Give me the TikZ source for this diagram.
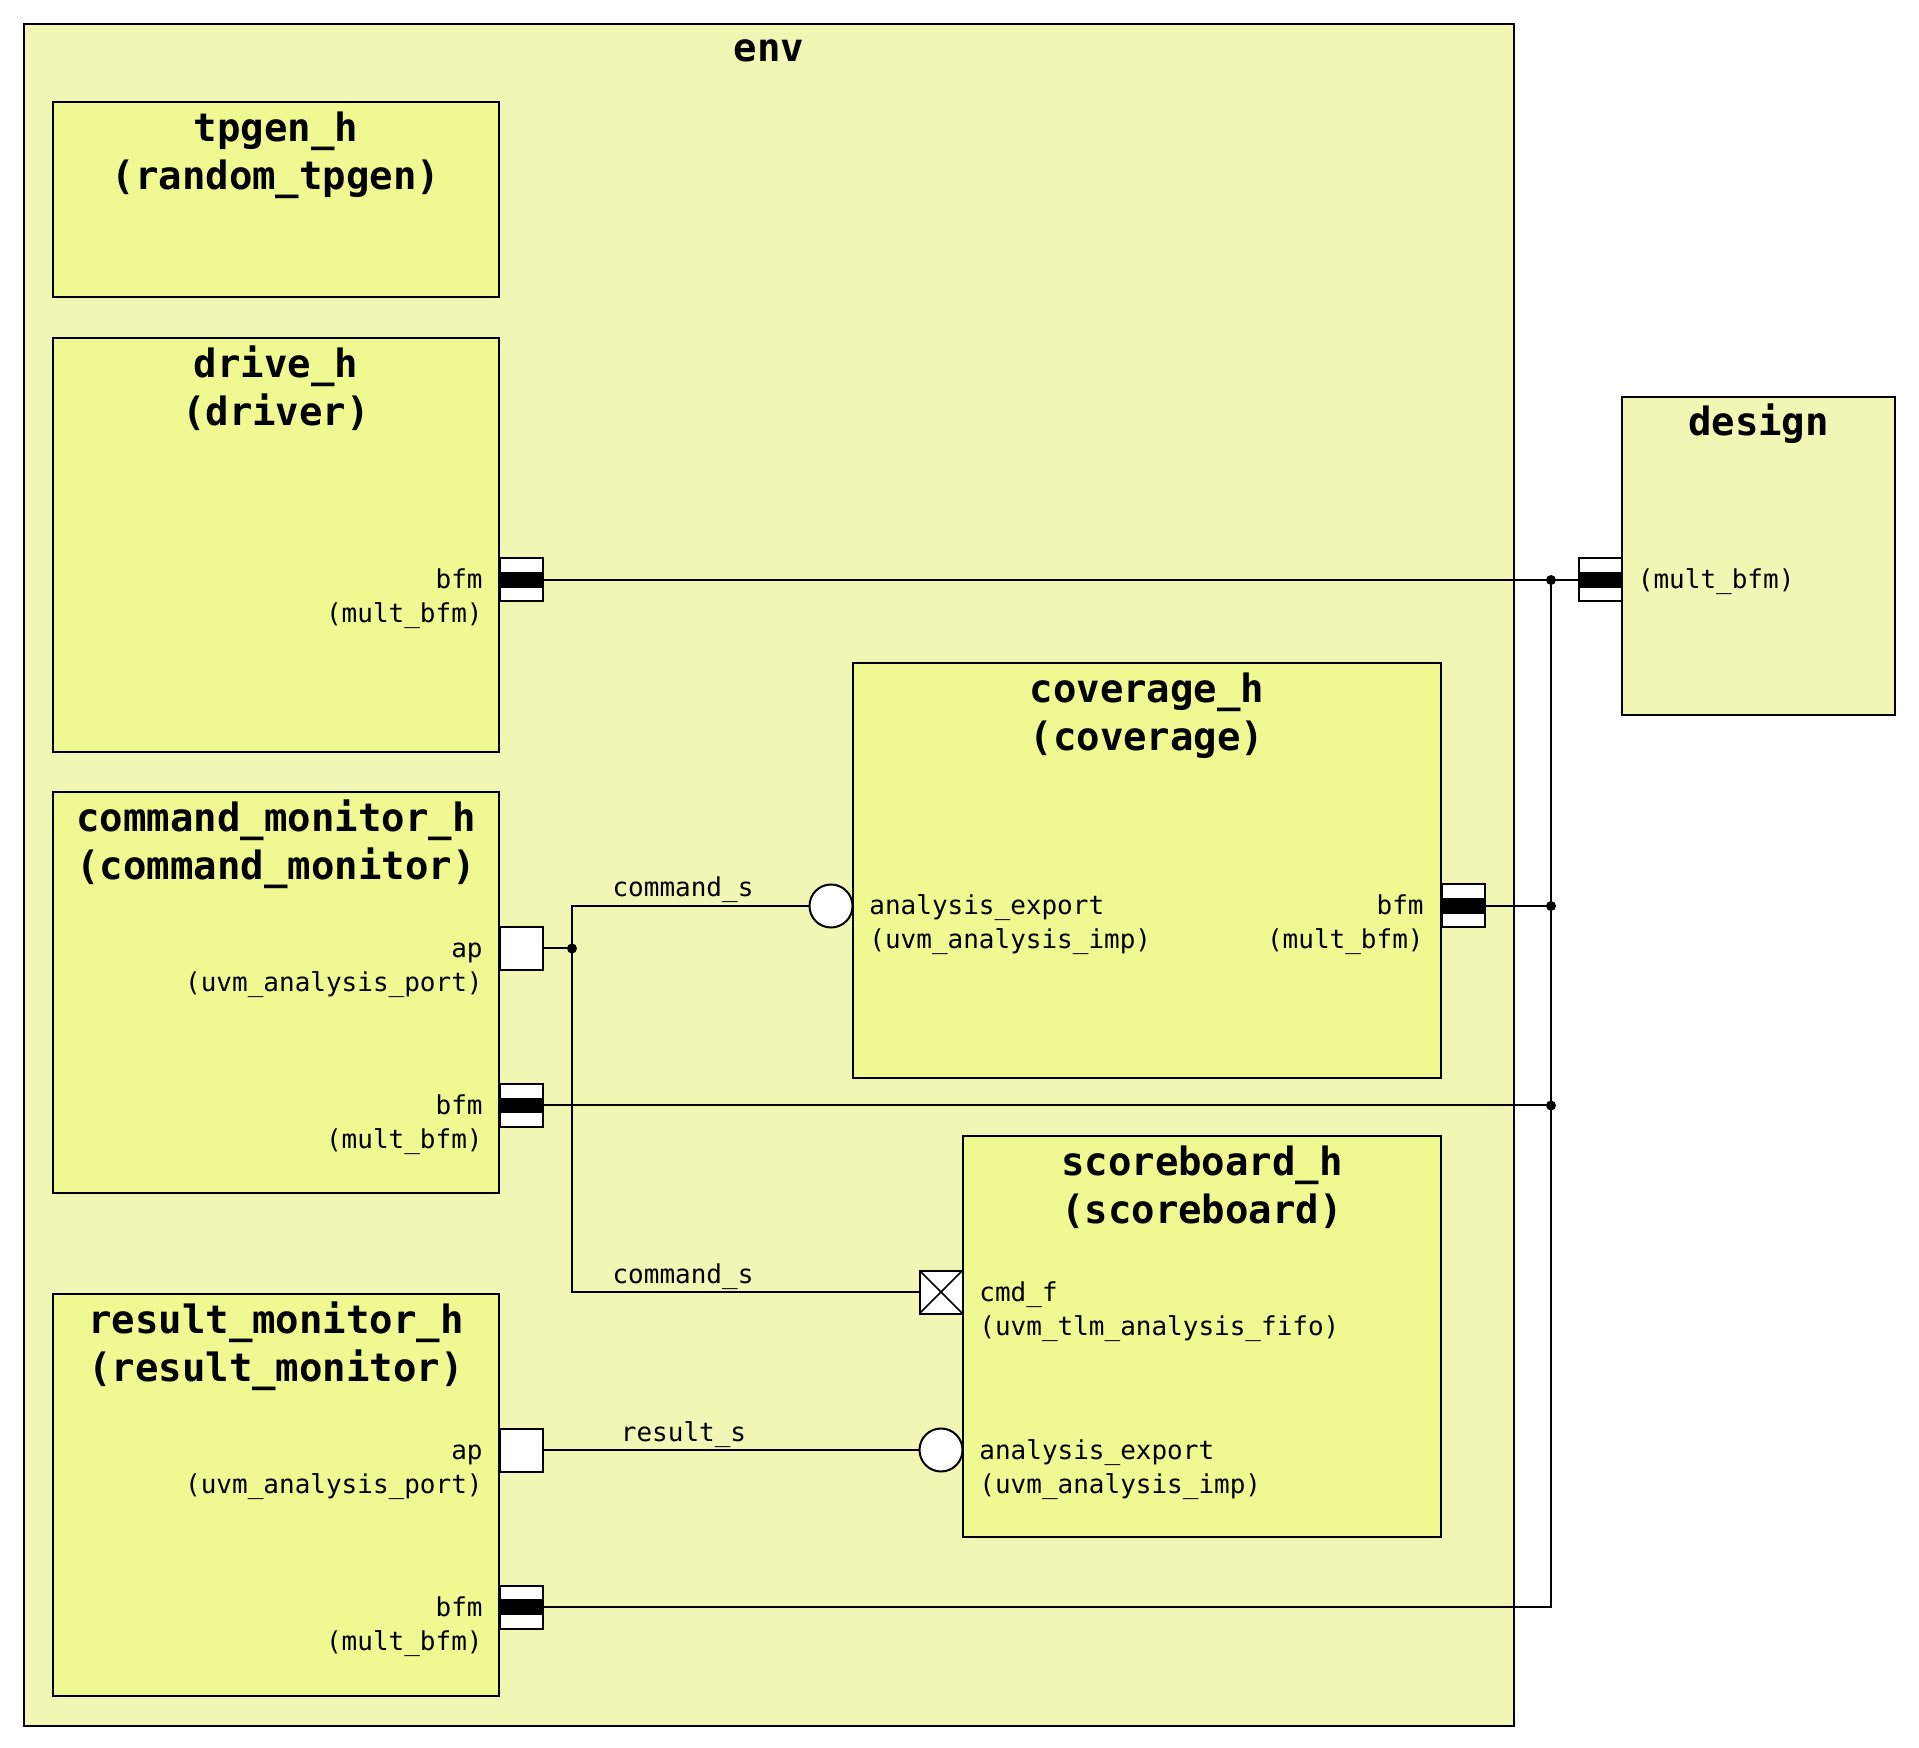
\documentclass[tikz,border=0pt]{standalone}
\usepackage{fontspec}
\setmonofont{DejaVu Sans Mono}
\usetikzlibrary{fit}
\definecolor{envfill}{HTML}{F1F6B4}
\definecolor{compfill}{HTML}{F0F891}
\pgfdeclarelayer{boxes}
\pgfdeclarelayer{wires}
\pgfsetlayers{boxes,wires,main}
\tikzset{
  box/.style={draw, line width=1pt, inner sep=0pt, outer sep=0pt},
  envbox/.style={box, fill=envfill},
  compbox/.style={box, fill=compfill},
  title/.style={inner sep=0pt, anchor=base, font=\ttfamily\bfseries\fontsize{19.5}{24}\selectfont},
  lbl/.style={inner sep=0pt, font=\ttfamily\fontsize{13}{16}\selectfont},
  lblr/.style={lbl, anchor=base east},
  lbll/.style={lbl, anchor=base west},
  lblc/.style={lbl, anchor=base},
  portbase/.style={draw, line width=1pt, fill=white, minimum size=21.5pt, inner sep=0pt, outer sep=0pt},
  bfmport/.style={portbase, rectangle,
    path picture={\fill[black] ([yshift=-3.9pt]path picture bounding box.west) rectangle ([yshift=3.9pt]path picture bounding box.east);}},
  apport/.style={portbase, rectangle},
  fifoport/.style={portbase, rectangle,
    path picture={\draw[line width=0.8pt] (path picture bounding box.north west) -- (path picture bounding box.south east)
                  (path picture bounding box.north east) -- (path picture bounding box.south west);}},
  impport/.style={portbase, circle},
  wire/.style={line width=1pt},
  joint/.style={fill=black, circle, inner sep=0pt, minimum size=5pt},
}
\begin{document}
\begin{tikzpicture}[x=0.5pt, y=-0.5pt]
\useasboundingbox (0,0) rectangle (1919,1748);

\begin{pgfonlayer}{boxes}
% containers
\node[envbox, fit={(24,24) (1514,1726)}] (env) {};
\node[envbox, fit={(1622,397) (1895,715)}] (design) {};
% components inside env
\node[compbox, fit={(53,102) (499,297)}] (tpgen) {};
\node[compbox, fit={(53,338) (499,752)}] (drive) {};
\node[compbox, fit={(53,792) (499,1193)}] (cmdmon) {};
\node[compbox, fit={(53,1294) (499,1696)}] (resmon) {};
\node[compbox, fit={(853,663) (1441,1078)}] (cov) {};
\node[compbox, fit={(963,1136) (1441,1537)}] (sb) {};
\end{pgfonlayer}

% titles
\node[title] (envT) at (769,62) {env};
\node[title] (designT) at (1758.5,436) {design};
\node[title] (tpgenT1) at (276,141.5) {tpgen\_h};
\node[title] (tpgenT2) at (276,189.5) {(random\_tpgen)};
\node[title] (driveT1) at (276,377.5) {drive\_h};
\node[title] (driveT2) at (276,425.5) {(driver)};
\node[title] (cmdmonT1) at (276,831.5) {command\_monitor\_h};
\node[title] (cmdmonT2) at (276,879.5) {(command\_monitor)};
\node[title] (resmonT1) at (276,1333.5) {result\_monitor\_h};
\node[title] (resmonT2) at (276,1381.5) {(result\_monitor)};
\node[title] (covT1) at (1147,702.5) {coverage\_h};
\node[title] (covT2) at (1147,750.5) {(coverage)};
\node[title] (sbT1) at (1202,1175.5) {scoreboard\_h};
\node[title] (sbT2) at (1202,1223.5) {(scoreboard)};

% port labels
\node[lblr] (driveL1) at (483,589) {bfm};
\node[lblr] (driveL2) at (483,623) {(mult\_bfm)};
\node[lblr] (cmapL1) at (483,957.5) {ap};
\node[lblr] (cmapL2) at (483,991.5) {(uvm\_analysis\_port)};
\node[lblr] (cmbfmL1) at (483,1114.5) {bfm};
\node[lblr] (cmbfmL2) at (483,1148.5) {(mult\_bfm)};
\node[lblr] (rmapL1) at (483,1459) {ap};
\node[lblr] (rmapL2) at (483,1493) {(uvm\_analysis\_port)};
\node[lblr] (rmbfmL1) at (483,1616) {bfm};
\node[lblr] (rmbfmL2) at (483,1650) {(mult\_bfm)};
\node[lbll] (covexpL1) at (869,915) {analysis\_export};
\node[lbll] (covexpL2) at (869,949) {(uvm\_analysis\_imp)};
\node[lblr] (covbfmL1) at (1424,915) {bfm};
\node[lblr] (covbfmL2) at (1424,949) {(mult\_bfm)};
\node[lbll] (cmdfL1) at (979,1301) {cmd\_f};
\node[lbll] (cmdfL2) at (979,1335) {(uvm\_tlm\_analysis\_fifo)};
\node[lbll] (sbexpL1) at (979,1459) {analysis\_export};
\node[lbll] (sbexpL2) at (979,1493) {(uvm\_analysis\_imp)};
\node[lbll] (designL) at (1637.5,589) {(mult\_bfm)};

% ports
\node[bfmport] (drivebfm) at (521,580) {};
\node[bfmport] (designbfm) at (1600,580) {};
\node[bfmport] (covbfm) at (1463,906) {};
\node[apport] (cmap) at (521,948.5) {};
\node[bfmport] (cmbfm) at (521,1105.5) {};
\node[apport] (rmap) at (521,1450) {};
\node[bfmport] (rmbfm) at (521,1607) {};
\node[impport] (covexp) at (831,906) {};
\node[fifoport] (cmdf) at (941,1292) {};
\node[impport] (sbexp) at (941,1450) {};

% junction points
\coordinate (bus) at (1551,580);
\coordinate (apj) at (572,948.5);

\begin{pgfonlayer}{wires}
% bfm bus
\draw[wire] (drivebfm.east) -- (designbfm.west);
\draw[wire] (rmbfm.east) -| (bus);
\draw[wire] (covbfm.east) -- (covbfm.east -| bus);
\draw[wire] (cmbfm.east) -- (cmbfm.east -| bus);
% analysis connections
\draw[wire] (cmap.east) -- (apj);
\draw[wire] (apj) |- (covexp.west);
\draw[wire] (apj) |- (cmdf.west);
\draw[wire] (rmap.east) -- (sbexp.west);
\end{pgfonlayer}

\node[joint] (j1) at (bus) {};
\node[joint] (j2) at (covbfm.east -| bus) {};
\node[joint] (j3) at (cmbfm.east -| bus) {};
\node[joint] (j4) at (apj) {};

% connection labels
\node[lblc] (cs1) at (683,897) {command\_s};
\node[lblc] (cs2) at (683,1283) {command\_s};
\node[lblc] (rs) at (683.5,1441.5) {result\_s};
\end{tikzpicture}
\end{document}
